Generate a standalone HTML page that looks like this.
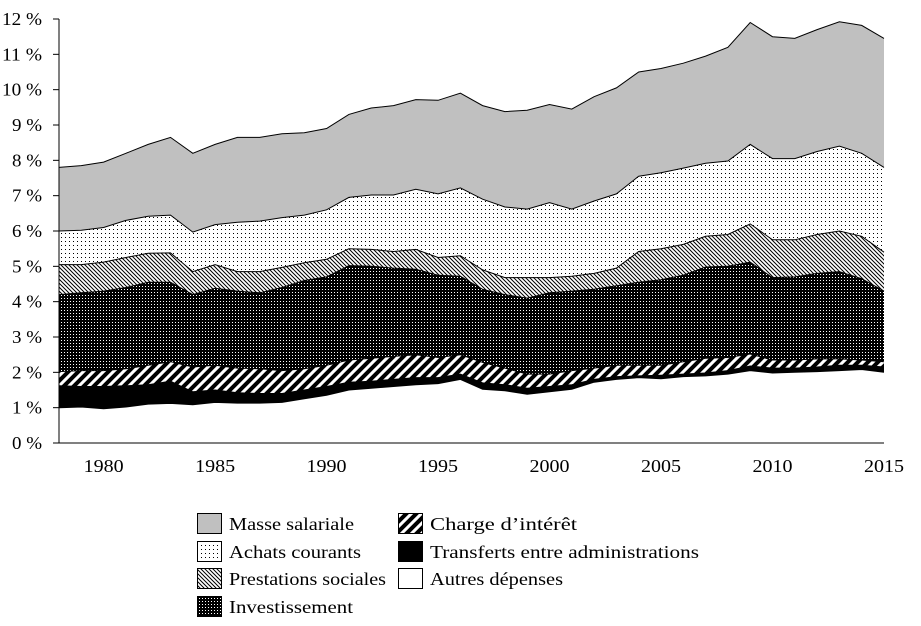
<!DOCTYPE html>
<html><head><meta charset="utf-8"><style>
body{margin:0;background:#fff;}
svg text{font-family:"Liberation Serif",serif;font-size:18px;fill:#000;}
</style></head><body>
<svg id="chart" width="921" height="621" xmlns="http://www.w3.org/2000/svg">
<defs>
<pattern id="pDots" width="4" height="4" patternUnits="userSpaceOnUse"><rect width="4" height="4" fill="#fff"/><rect x="1" y="1" width="1" height="1" fill="#000"/></pattern>
<pattern id="pDiag" width="4" height="4" patternUnits="userSpaceOnUse"><rect width="4" height="4" fill="#fff"/><path d="M-1,-1L5,5M-1,3L1,5M3,-1L5,1" stroke="#000" stroke-width="1"/></pattern>
<pattern id="pInv" width="3" height="3" patternUnits="userSpaceOnUse"><rect width="3" height="3" fill="#000"/><rect x="1" y="1" width="1" height="1" fill="#fff"/></pattern>
<pattern id="pHatch" width="10" height="10" patternUnits="userSpaceOnUse"><rect width="10" height="10" fill="#fff"/><path d="M-2,12L12,-2M-2,2L2,-2M8,12L12,8" stroke="#000" stroke-width="4"/></pattern>
</defs>
<g id="areas"></g>
<g id="axes"></g>
<g id="legend"></g>
</svg>
<script>
const years=[];for(let y=1978;y<=2015;y++)years.push(y);
// cumulative tops (% of GDP) of each stacked layer
const cumAutres=[1.0,1.02,0.97,1.02,1.1,1.12,1.08,1.15,1.13,1.13,1.15,1.25,1.35,1.5,1.55,1.6,1.65,1.68,1.8,1.52,1.48,1.38,1.45,1.52,1.72,1.8,1.85,1.82,1.88,1.9,1.95,2.05,1.98,2.0,2.02,2.05,2.08,2.0];
const cumTransferts=[1.62,1.6,1.6,1.62,1.65,1.75,1.45,1.5,1.42,1.4,1.4,1.5,1.6,1.72,1.75,1.8,1.85,1.85,1.95,1.7,1.65,1.55,1.6,1.65,1.8,1.88,1.9,1.92,1.95,1.98,2.05,2.18,2.12,2.12,2.15,2.2,2.2,2.15];
const cumCharge=[2.02,2.05,2.05,2.1,2.2,2.3,2.15,2.2,2.12,2.1,2.05,2.1,2.2,2.35,2.4,2.45,2.5,2.42,2.5,2.28,2.12,1.95,1.95,2.05,2.12,2.2,2.2,2.2,2.3,2.4,2.42,2.52,2.35,2.35,2.38,2.38,2.35,2.3];
const cumInvest=[4.2,4.25,4.3,4.4,4.55,4.55,4.2,4.38,4.3,4.25,4.4,4.6,4.7,5.02,5.0,4.95,4.92,4.75,4.72,4.35,4.2,4.1,4.25,4.3,4.35,4.45,4.55,4.62,4.75,4.98,5.0,5.12,4.68,4.7,4.8,4.85,4.65,4.3];
const cumPrestations=[5.05,5.05,5.12,5.25,5.37,5.38,4.85,5.05,4.85,4.85,4.97,5.1,5.2,5.5,5.48,5.42,5.48,5.25,5.3,4.9,4.68,4.68,4.68,4.72,4.8,4.95,5.42,5.5,5.62,5.85,5.9,6.2,5.75,5.75,5.9,6.0,5.85,5.4];
const cumAchats=[6.0,6.02,6.1,6.3,6.42,6.45,5.97,6.18,6.25,6.28,6.38,6.45,6.6,6.95,7.02,7.02,7.18,7.05,7.22,6.9,6.68,6.62,6.8,6.62,6.85,7.05,7.55,7.65,7.78,7.92,7.98,8.45,8.05,8.05,8.25,8.4,8.2,7.8];
const cumMasse=[7.8,7.85,7.95,8.2,8.45,8.65,8.2,8.45,8.65,8.65,8.75,8.78,8.9,9.3,9.48,9.55,9.72,9.7,9.9,9.55,9.38,9.42,9.58,9.45,9.8,10.05,10.5,10.6,10.75,10.95,11.2,11.9,11.5,11.45,11.7,11.92,11.82,11.45];
const yTicks=[0,1,2,3,4,5,6,7,8,9,10,11,12];
const xTicks=[1980,1985,1990,1995,2000,2005,2010,2015];

const NS="http://www.w3.org/2000/svg";
const X0=59,X1=884,Y0=443,Y1=19;
const xs=y=>X0+(y-1978)/(2015-1978)*(X1-X0);
const ys=v=>Y0-v/12*(Y0-Y1);
function mk(t,a,p){const e=document.createElementNS(NS,t);for(const k in a)e.setAttribute(k,a[k]);p.appendChild(e);return e;}
const areas=document.getElementById('areas');
const layers=[
 ['masse-salariale-area',cumMasse,cumAchats,'#c0c0c0'],
 ['achats-courants-area',cumAchats,cumPrestations,'url(#pDots)'],
 ['prestations-sociales-area',cumPrestations,cumInvest,'url(#pDiag)'],
 ['investissement-area',cumInvest,cumCharge,'url(#pInv)'],
 ['charge-interet-area',cumCharge,cumTransferts,'url(#pHatch)'],
 ['transferts-area',cumTransferts,cumAutres,'#000'],
 ['autres-depenses-area',cumAutres,null,'#fff']
];
layers.forEach(([n,top,bot,fill])=>{
 let d='';
 years.forEach((y,i)=>{d+=(i?'L':'M')+xs(y).toFixed(1)+','+ys(top[i]).toFixed(1);});
 for(let i=years.length-1;i>=0;i--){d+='L'+xs(years[i]).toFixed(1)+','+ys(bot?bot[i]:0).toFixed(1);}
 const p=mk('path',{d:d+'Z',fill:fill,stroke:'none'},areas);
 
 
 let l='';years.forEach((y,i)=>{l+=(i?'L':'M')+xs(y).toFixed(1)+','+ys(top[i]).toFixed(1);});
 const ln=mk('path',{d:l,fill:'none',stroke:'#000','stroke-width':1},areas);
 
 
});
const ax=document.getElementById('axes');
const ya=mk('line',{x1:X0,y1:Y1,x2:X0,y2:Y0,stroke:'#000'},ax);


const xa=mk('line',{x1:X0,y1:Y0,x2:X1,y2:Y0,stroke:'#000'},ax);


yTicks.forEach(v=>{
 mk('line',{x1:X0-6,y1:ys(v),x2:X0,y2:ys(v),stroke:'#000'},ax);
 const t=mk('text',{x:42,y:ys(v)+6,'text-anchor':'end',textLength:v>=10?40:30,lengthAdjust:'spacingAndGlyphs'},ax);
 t.textContent=v+' %';
 
 
});
xTicks.forEach(v=>{
 const t=mk('text',{x:xs(v),y:472,'text-anchor':'middle',textLength:40,lengthAdjust:'spacingAndGlyphs'},ax);
 t.textContent=v;
 
 
});
const lg=document.getElementById('legend');
const items=[
 ['Masse salariale','#c0c0c0',197,513,125],['Achats courants','url(#pDots)',197,541,132],
 ['Prestations sociales','url(#pDiag)',197,568,157],['Investissement','url(#pInv)',197,596,124],
 ['Charge d’intérêt','url(#pHatch)',398,513,147],['Transferts entre administrations','#000',398,541,269],
 ['Autres dépenses','#fff',398,568,133]
];
items.forEach(([n,f,x,y,w])=>{
 const g=mk('g',{},lg);
 
 
 mk('rect',{x:x+0.5,y:y+0.5,width:24,height:20,fill:f,stroke:'#000'},g);
 const t=mk('text',{x:x+32,y:y+17,textLength:w,lengthAdjust:'spacingAndGlyphs'},g);t.textContent=n;
});
</script>
</body></html>
